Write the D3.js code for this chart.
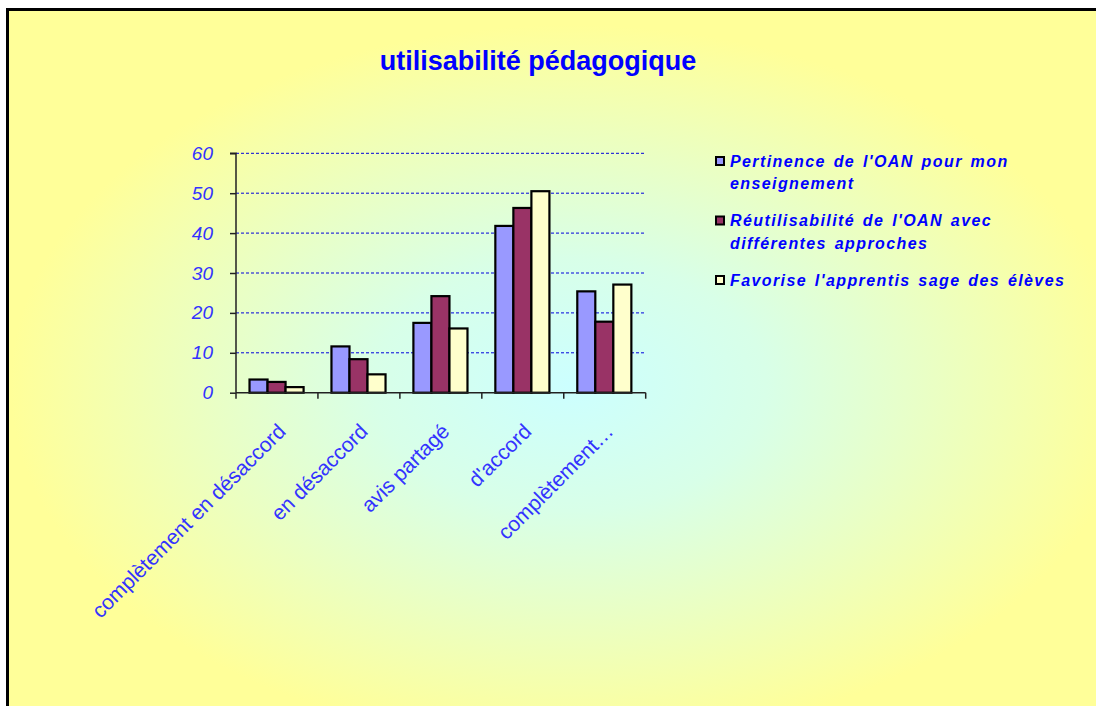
<!DOCTYPE html>
<html>
<head>
<meta charset="utf-8">
<script src="https://cdn.jsdelivr.net/npm/d3@7"></script>
<style>
html,body{margin:0;padding:0;background:#fff;}
svg{display:block;}
</style>
</head>
<body>
<script>
const categories = ["complètement en désaccord","en désaccord","avis partagé","d'accord","complètement…"];
const seriesNames = ["Pertinence de l'OAN pour mon enseignement","Réutilisabilité de l'OAN avec différentes approches","Favorise l'apprentissage des élèves"];
const legendLines = [["Pertinence de l'OAN pour mon","enseignement"],["Réutilisabilité de l'OAN avec","différentes approches"],["Favorise l'apprentis sage des élèves"]];
const pertinence = [3.3, 11.6, 17.5, 41.8, 25.4];
const reutilisabilite = [2.7, 8.4, 24.2, 46.3, 17.8];
const favorise = [1.4, 4.6, 16.1, 50.5, 27.1];
const seriesValues = [pertinence, reutilisabilite, favorise];
const seriesColors = ["#9999ff","#993366","#ffffcc"];
const yTicks = [0,10,20,30,40,50,60];

(function(){
const W = 1096, H = 706;
const FONT = "Liberation Sans, Arial, sans-serif";
const svg = d3.select("body").append("svg").attr("width", W).attr("height", H);
const defs = svg.append("defs");
const grad = defs.append("radialGradient").attr("id","bg")
  .attr("gradientUnits","userSpaceOnUse")
  .attr("cx",0).attr("cy",0).attr("r",1)
  .attr("gradientTransform","translate(570,385) scale(560,360)");
grad.append("stop").attr("offset","0").attr("stop-color","#ccffff");
grad.append("stop").attr("offset","0.35").attr("stop-color","#d8ffe8");
grad.append("stop").attr("offset","1").attr("stop-color","#ffff99");

svg.append("rect").attr("x",0).attr("y",0).attr("width",W).attr("height",H).attr("fill","#fff");
svg.append("rect").attr("x",7.5).attr("y",9.5).attr("width",W+20).attr("height",H+20)
  .attr("fill","url(#bg)").attr("stroke","#000").attr("stroke-width",3);

// title
svg.append("text").attr("x",538).attr("y",70).attr("text-anchor","middle")
  .attr("font-family",FONT).attr("font-weight","bold")
  .attr("font-size",27).attr("fill","#0000ff").text("utilisabilité pédagogique");

const pl = 236, pr = 645.7, pt = 153.3, pb = 392.7;
const y = d3.scaleLinear().domain([0,60]).range([pb, pt]);
const x0 = d3.scaleBand().domain(categories).range([pl, pr]).padding(0);
const x1 = d3.scaleBand().domain(d3.range(seriesValues.length)).range([x0.bandwidth()*0.165, x0.bandwidth()*0.825]);

// gridlines
svg.append("g").selectAll("line").data(yTicks.filter(d=>d>0)).join("line")
  .attr("x1",pl).attr("x2",pr).attr("y1",d=>y(d)).attr("y2",d=>y(d))
  .attr("stroke","#0000dd").attr("stroke-width",1).attr("stroke-dasharray","3,2");

// bars
const groups = svg.append("g").selectAll("g").data(categories).join("g")
  .attr("transform",c=>`translate(${x0(c)},0)`);
groups.selectAll("rect").data((c,i)=>seriesValues.map((s,j)=>({j, v:s[i]}))).join("rect")
  .attr("x",d=>x1(d.j)).attr("width",x1.bandwidth())
  .attr("y",d=>y(d.v)).attr("height",d=>y(0)-y(d.v))
  .attr("fill",d=>seriesColors[d.j]).attr("stroke","#000").attr("stroke-width",2.2);

// y axis
const yAxis = d3.axisLeft(y).tickValues(yTicks).tickSize(6).tickPadding(17);
const ya = svg.append("g").attr("transform",`translate(${pl},0)`).call(yAxis);
ya.select(".domain").attr("stroke","#222").attr("stroke-width",1.5).attr("d",`M-6,${pt}H0V${pb}`);
ya.selectAll(".tick line").attr("stroke","#222").attr("stroke-width",1.5);
ya.selectAll(".tick text").attr("font-family",FONT)
  .attr("font-style","italic").attr("font-size",19).attr("fill","#3333ff");

// x axis
const xa = svg.append("g").attr("transform",`translate(0,${pb})`);
xa.append("line").attr("x1",pl).attr("x2",pr).attr("stroke","#222").attr("stroke-width",1.5);
const bounds = categories.map(c=>x0(c)).concat([pr]);
xa.selectAll(".tk").data(bounds).join("line").attr("class","tk")
  .attr("x1",d=>d).attr("x2",d=>d).attr("y1",0).attr("y2",6)
  .attr("stroke","#222").attr("stroke-width",1.5);
xa.selectAll(".lbl").data(categories).join("text").attr("class","lbl")
  .attr("transform",c=>`translate(${x0(c)+x0.bandwidth()/2+10},40) rotate(-45)`)
  .attr("text-anchor","end")
  .attr("font-family",FONT).attr("font-size",21)
  .attr("fill","#3333ff").text(c=>c);

// legend
const leg = svg.append("g");
let ly = 166.5;
legendLines.forEach((lines,i)=>{
  leg.append("rect").attr("x",716).attr("y",ly-9.5).attr("width",8).attr("height",8)
    .attr("fill",seriesColors[i]).attr("stroke","#000").attr("stroke-width",2);
  lines.forEach((t,k)=>{
    leg.append("text").attr("x",730).attr("y",ly + k*22.5)
      .attr("font-family",FONT).attr("font-weight","bold")
      .attr("font-style","italic").attr("font-size",16).attr("fill","#0000ff")
      .attr("letter-spacing",1.4).attr("word-spacing",2).text(t);
  });
  ly += lines.length*22.5 + 14.5;
});
})();
</script>
</body>
</html>
